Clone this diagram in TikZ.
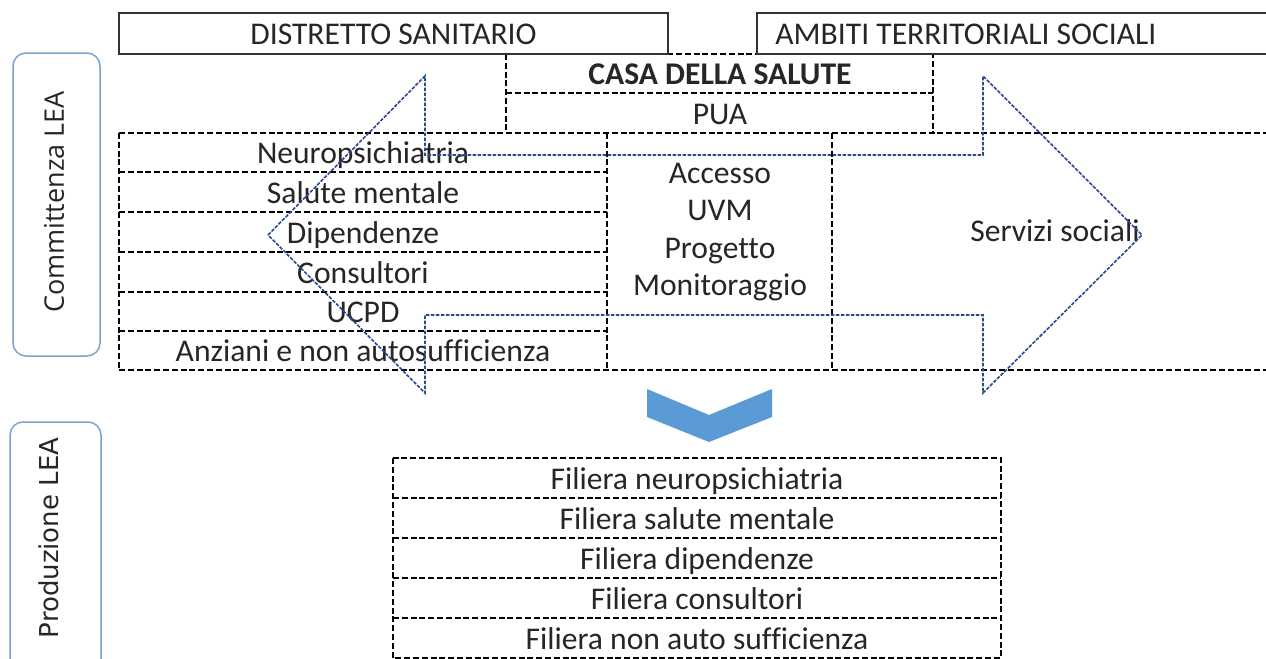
\documentclass[tikz,border=0pt]{standalone}
\usepackage{fontspec}
\setmainfont{Carlito}[Ligatures={NoCommon}]
\newfontfamily\osans{Open Sans}
\newfontfamily\dvsans{DejaVu Sans}
\definecolor{arrowblue}{HTML}{2A4A8C}
\definecolor{sideblue}{HTML}{7BA3CF}
\definecolor{chevblue}{HTML}{5B9BD5}
\definecolor{txt}{HTML}{262626}
\begin{document}
\begin{tikzpicture}[x=0.5pt,y=-0.5pt,
  solidbox/.style={draw=black!80, line width=0.9pt},
  dbox/.style={draw=black, line width=0.6pt, dash pattern=on 3pt off 1.4pt},
  arrowline/.style={draw=arrowblue, line width=0.8pt, dash pattern=on 1.8pt off 0.7pt, line join=miter},
  lbl/.style={font=\fontsize{15.8}{19}\selectfont, text=txt, inner sep=0pt, anchor=base},
  sidebox/.style={draw=sideblue, line width=0.75pt, rounded corners=6.5pt},
]
\fill[white] (0,0) rectangle (1266,659);
\useasboundingbox (0,0) rectangle (1266,659);

% side labels
\draw[sidebox] (13,53) rectangle (100,356);
\node[rotate=90, font=\osans\fontsize{13.5}{16}\selectfont, text=txt, inner sep=0pt] (comm) at (54,202) {Committenza LEA};
\draw[sidebox] (10,670) -- (10,422) -- (101,422) -- (101,670);
\node[rotate=90, font=\dvsans\fontsize{13}{15}\selectfont, text=txt, inner sep=0pt] (prod) at (49,538) {Produzione LEA};

% casa della salute
\draw[dbox] (506,54) rectangle (933,133);
\draw[dbox] (506,93) -- (933,93);
\node[lbl, font=\bfseries\fontsize{15.8}{19}\selectfont] (casa) at (720,84.5) {CASA DELLA SALUTE};
\node[lbl] (pua) at (720,124) {PUA};

% top solid boxes
\draw[solidbox] (119,13) rectangle (668,54);
\node[lbl] (distretto) at (393.5,44.5) {DISTRETTO SANITARIO};
\draw[solidbox] (1275,13) -- (757,13) -- (757,54) -- (1275,54);
\node[lbl, anchor=base west] (ambiti) at (775,44.5) {AMBITI TERRITORIALI SOCIALI};

% main table
\draw[dbox] (119,133) -- (1275,133);
\draw[dbox] (119,370) -- (1275,370);
\draw[dbox] (119,133) -- (119,370);
\draw[dbox] (607,133) -- (607,370);
\draw[dbox] (832,133) -- (832,370);
\foreach \y in {172,212,252,292,331}{
  \draw[dbox] (119,\y) -- (607,\y);
}
\foreach \t/\ya/\yb/\n in {Neuropsichiatria/133/172/r1, Salute mentale/172/212/r2, Dipendenze/212/252/r3, Consultori/252/292/r4, UCPD/292/331/r5, Anziani e non autosufficienza/331/370/r6}{
  \node[lbl] (\n) at (363,{(\ya+\yb)/2+11}) {\t};
}
\node[lbl] (accesso) at (720,183) {Accesso};
\node[lbl] (uvm) at (720,220.5) {UVM};
\node[lbl] (progetto) at (720,258) {Progetto};
\node[lbl] (monit) at (720,295.5) {Monitoraggio};
\node[lbl] (servizi) at (1055,241) {Servizi sociali};

% double arrow outline
\draw[arrowline] (268,235) -- (425,76) -- (425,155) -- (983,155) -- (983,76) -- (1142,235)
  -- (983,393) -- (983,315) -- (425,315) -- (425,393) -- cycle;

% chevron
\fill[chevblue] (647,389) -- (709,415) -- (772,389) -- (772,417) -- (709,442) -- (647,417) -- cycle;

% filiera table
\draw[dbox] (393,458) rectangle (1001,658);
\foreach \y in {498,538,578,618}{
  \draw[dbox] (393,\y) -- (1001,\y);
}
\foreach \t/\ya/\yb/\n in {Filiera neuropsichiatria/458/498/f1, Filiera salute mentale/498/538/f2, Filiera dipendenze/538/578/f3, Filiera consultori/578/618/f4, Filiera non auto sufficienza/618/658/f5}{
  \node[lbl] (\n) at (697,{(\ya+\yb)/2+11}) {\t};
}
\end{tikzpicture}
\end{document}
